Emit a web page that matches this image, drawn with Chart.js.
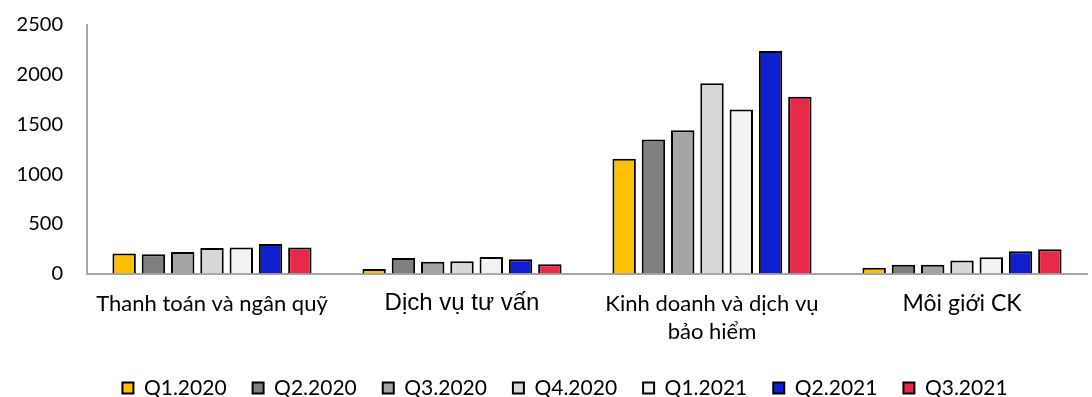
<!DOCTYPE html>
<html>
<head>
<meta charset="utf-8">
<script src="https://cdn.jsdelivr.net/npm/chart.js@4/dist/chart.umd.min.js"></script>
<style>
html,body{margin:0;padding:0;background:#fff;}
#wrap{width:1092px;height:397px;position:relative;}
</style>
</head>
<body>
<div id="wrap"><canvas id="c" width="1092" height="397"></canvas></div>
<script>
const categories = [
  "Thanh toán và ngân quỹ",
  "Dịch vụ tư vấn",
  ["Kinh doanh và dịch vụ", "bảo hiểm"],
  "Môi giới CK"
];
const seriesNames = ["Q1.2020","Q2.2020","Q3.2020","Q4.2020","Q1.2021","Q2.2021","Q3.2021"];
const q1_2020 = [200, 46, 1155, 57];
const q2_2020 = [194, 157, 1348, 87];
const q3_2020 = [217, 117, 1442, 87];
const q4_2020 = [257, 124, 1914, 130];
const q1_2021 = [261, 167, 1650, 164];
const q2_2021 = [297, 144, 2239, 224];
const q3_2021 = [261, 94, 1777, 244];
const yTicks = [0, 500, 1000, 1500, 2000, 2500];

const seriesValues = [q1_2020, q2_2020, q3_2020, q4_2020, q1_2021, q2_2021, q3_2021];
const colors = ["#FFC000","#7F7F7F","#A5A5A5","#D8D8D8","#F2F2F2","#1020D0","#E82A4A"];

const FONT = "Lato, 'Open Sans', sans-serif";
const FONT_ALT = "'Liberation Sans', Arial, sans-serif";

new Chart(document.getElementById('c'), {
  type: 'bar',
  data: {
    labels: categories,
    datasets: seriesNames.map((n, i) => ({
      label: n,
      data: seriesValues[i],
      backgroundColor: colors[i],
      borderColor: '#000',
      borderWidth: 2,
      borderSkipped: 'bottom',
      categoryPercentage: 0.82,
      barPercentage: 0.8
    }))
  },
  options: {
    responsive: false,
    animation: false,
    layout: { padding: { top: 25, right: -21, left: 17, bottom: -11.5 } },
    plugins: {
      tooltip: { enabled: false },
      legend: {
        position: 'bottom',
        labels: {
          font: { family: FONT, size: 21 },
          color: '#000',
          boxWidth: 11,
          boxHeight: 11,
          padding: 26
        }
      }
    },
    scales: {
      x: {
        grid: { display: false, drawTicks: false },
        border: { display: true, color: '#A6A6A6', width: 2 },
        afterFit: (scale) => { scale.height = 78; scale.paddingLeft = 0; scale.paddingRight = 5; },
        ticks: {
          color: '#000',
          font: (ctx) => (ctx.index === 1
            ? { family: FONT_ALT, size: 24, lineHeight: '28px' }
            : { family: FONT, size: ctx.index === 3 ? 23 : 22, lineHeight: '28px' }),
          padding: 16,
          maxRotation: 0,
          autoSkip: false
        }
      },
      y: {
        min: 0,
        max: 2500,
        afterBuildTicks: (axis) => { axis.ticks = yTicks.map(v => ({ value: v })); },
        afterFit: (scale) => { scale.width = 70; scale.paddingTop = 12; scale.paddingBottom = 12; },
        grid: { display: false, drawTicks: false },
        border: { display: true, color: '#A6A6A6', width: 2 },
        ticks: {
          color: '#000',
          font: { family: FONT, size: 20 },
          padding: 24,
          callback: (v) => String(v)
        }
      }
    }
  }
});
</script>
</body>
</html>
